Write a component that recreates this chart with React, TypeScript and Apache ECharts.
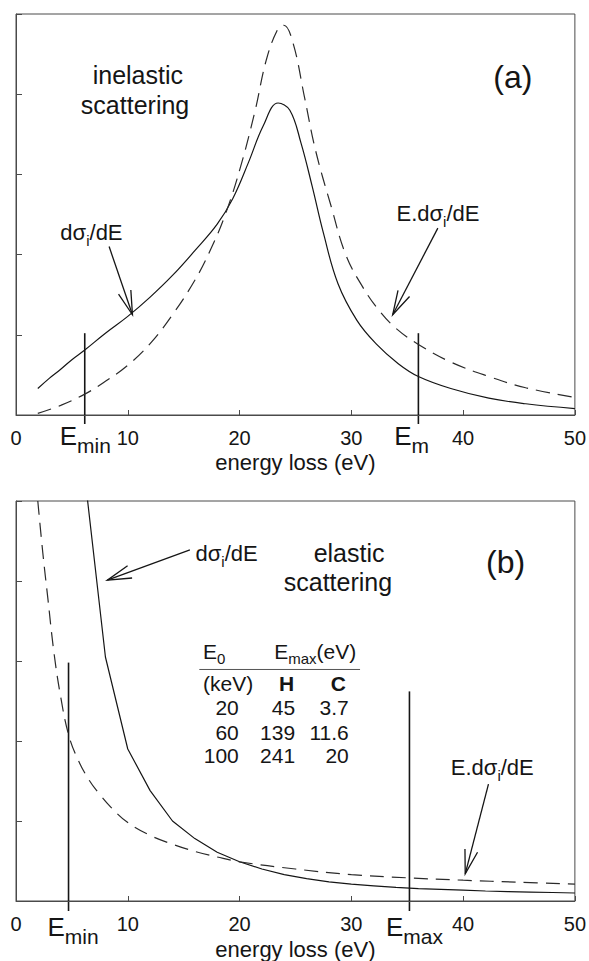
import { useEffect, useRef } from "react";
import * as echarts from "echarts";

// ---------------- data ----------------
const xTickValues = [0, 10, 20, 30, 40, 50];

// (a) inelastic scattering: dσi/dE (solid) and E·dσi/dE (dashed)
const inelasticSolidE = [1.95, 3, 4, 5, 6.15, 8, 10, 12, 14, 16, 18, 19.4, 20.8, 22.1, 23.45, 24.5, 25.5, 26.5, 27.5, 28.8, 30.5, 32.2, 34.2, 36, 38.9, 42.3, 45.6, 50];
const inelasticSolidY = [0.33, 0.46, 0.57, 0.69, 0.81, 1.02, 1.23, 1.47, 1.74, 2.05, 2.38, 2.7, 3.15, 3.6, 3.89, 3.8, 3.39, 2.85, 2.27, 1.64, 1.18, 0.89, 0.64, 0.48, 0.33, 0.21, 0.14, 0.08];
const inelasticDashE = [1.95, 4, 6.15, 8, 10, 12, 14, 16, 17.4, 18.75, 20.1, 21.4, 22.4, 23.45, 23.96, 24.8, 25.8, 26.8, 28.2, 29.5, 31, 32.5, 34, 36, 38.9, 42.3, 45.6, 50];
const inelasticDashY = [0.02, 0.12, 0.26, 0.42, 0.62, 0.89, 1.25, 1.68, 2.06, 2.51, 3.1, 3.8, 4.43, 4.82, 4.86, 4.63, 3.97, 3.3, 2.6, 2.0, 1.6, 1.3, 1.08, 0.88, 0.66, 0.48, 0.34, 0.22];
const inelasticMarkerE = [6.15, 36.0];
const inelasticMarkerTop = [1.02, 1.02];
const inelasticMarkerNames = ["min", "m"];

// (b) elastic scattering
const elasticSolidE = [6, 8, 10, 12, 14, 16, 18, 20, 22, 24, 26, 28, 30, 32, 34, 36, 38, 40, 42, 44, 46, 48, 50];
const elasticSolidY = [5.5, 3.05, 1.9, 1.38, 1.0, 0.78, 0.61, 0.49, 0.4, 0.33, 0.28, 0.24, 0.21, 0.19, 0.17, 0.155, 0.145, 0.135, 0.125, 0.118, 0.112, 0.106, 0.1];
const elasticDashE = [1.95, 2.4, 2.86, 3.4, 4, 4.7, 5.5, 6.5, 7.5, 8.5, 10, 12, 14, 16, 18, 20, 25, 30, 35, 40, 45, 50];
const elasticDashY = [5.0, 4.35, 3.77, 3.1, 2.55, 2.08, 1.78, 1.52, 1.33, 1.17, 0.98, 0.82, 0.71, 0.62, 0.55, 0.49, 0.4, 0.33, 0.29, 0.26, 0.235, 0.21];
const elasticMarkerE = [4.7, 35.2];
const elasticMarkerTop = [2.98, 2.62];
const elasticMarkerNames = ["min", "max"];

// table of E_max values
const tableBeamEnergy = ["20", "60", "100"];
const tableHydrogen = ["45", "139", "241"];
const tableCarbon = ["3.7", "11.6", "20"];

// ---------------- styling / layout ----------------
const FONT = "'Liberation Sans', Arial, Helvetica, sans-serif";
const INK = "#151515";
const FRAME = "#4a4a4a";

const zip = (xs: number[], ys: number[]) => xs.map((x, i) => [x, ys[i]]);

let measureCtx: CanvasRenderingContext2D | null = null;
function measure(text: string, size: number, bold?: boolean) {
  if (!measureCtx) measureCtx = document.createElement("canvas").getContext("2d");
  if (!measureCtx) return text.length * size * 0.55;
  measureCtx.font = `${bold ? "bold " : ""}${size}px 'Liberation Sans', Arial, sans-serif`;
  return measureCtx.measureText(text).width;
}

type Part = { t: string; sub?: boolean; bold?: boolean };

function textEl(t: string, x: number, y: number, size: number, align: string, bold?: boolean) {
  return {
    type: "text",
    x,
    y,
    silent: true,
    style: {
      text: t,
      fontSize: size,
      fontFamily: FONT,
      fontWeight: bold ? "bold" : "normal",
      fill: INK,
      align,
      verticalAlign: "middle",
      textAlign: align,
      textVerticalAlign: "middle",
    },
  };
}

function composite(parts: Part[], px: number, py: number, size: number, subSize: number, subDy: number, align: "left" | "center" | "right") {
  const widths = parts.map((p) => measure(p.t, p.sub ? subSize : size, p.bold));
  const total = widths.reduce((a, b) => a + b, 0);
  let x = align === "left" ? px : align === "center" ? px - total / 2 : px - total;
  return parts.map((p, i) => {
    const el = textEl(p.t, x, py + (p.sub ? subDy : 0), p.sub ? subSize : size, "left", p.bold);
    x += widths[i];
    return el;
  });
}

export default function App() {
  const ref = useRef<HTMLDivElement>(null);

  useEffect(() => {
    document.body.style.margin = "0";
    if (!ref.current) return;
    const chart = echarts.init(ref.current, null, { renderer: "svg" });

    const xAxis = (gridIndex: number, nameGap: number) => ({
      type: "value",
      gridIndex,
      min: xTickValues[0],
      max: xTickValues[xTickValues.length - 1],
      interval: 10,
      axisLine: { show: true, lineStyle: { color: FRAME, width: 1 } },
      axisTick: { show: true, inside: true, length: 5, lineStyle: { color: FRAME, width: 1 } },
      axisLabel: { fontSize: 20, fontFamily: FONT, color: INK, margin: 13 },
      splitLine: { show: false },
      name: "energy loss (eV)",
      nameLocation: "middle",
      nameGap,
      nameTextStyle: { fontSize: 22, fontFamily: FONT, color: INK },
    });
    const yAxis = (gridIndex: number) => ({
      type: "value",
      gridIndex,
      min: 0,
      max: 5,
      interval: 1,
      axisLine: { show: true, lineStyle: { color: FRAME, width: 1 } },
      axisTick: { show: true, inside: true, length: 6, lineStyle: { color: FRAME, width: 1 } },
      axisLabel: { show: false },
      splitLine: { show: false },
    });
    const solid = { color: INK, width: 1.2 };
    const dashed = { color: "#2a2a2a", width: 1.2, type: [14, 8] };

    chart.setOption({
      animation: false,
      backgroundColor: "#ffffff",
      grid: [
        { left: 16, top: 14, width: 559, height: 401, show: true, borderColor: FRAME, borderWidth: 1, backgroundColor: "transparent" },
        { left: 16, top: 501, width: 559, height: 402, show: true, borderColor: FRAME, borderWidth: 1, backgroundColor: "transparent" },
      ],
      xAxis: [xAxis(0, 36), xAxis(1, 37)],
      yAxis: [yAxis(0), yAxis(1)],
      series: [
        { name: "dσi/dE (inelastic)", type: "line", xAxisIndex: 0, yAxisIndex: 0, data: zip(inelasticSolidE, inelasticSolidY), smooth: 0.4, symbol: "none", lineStyle: solid, clip: true },
        { name: "E·dσi/dE (inelastic)", type: "line", xAxisIndex: 0, yAxisIndex: 0, data: zip(inelasticDashE, inelasticDashY), smooth: 0.4, symbol: "none", lineStyle: dashed, clip: true },
        { name: "dσi/dE (elastic)", type: "line", xAxisIndex: 1, yAxisIndex: 1, data: zip(elasticSolidE, elasticSolidY), smooth: false, symbol: "none", lineStyle: solid, clip: true },
        { name: "E·dσi/dE (elastic)", type: "line", xAxisIndex: 1, yAxisIndex: 1, data: zip(elasticDashE, elasticDashY), smooth: 0.4, symbol: "none", lineStyle: dashed, clip: true },
      ],
    });

    const px = (g: number, x: number, y: number) => chart.convertToPixel({ gridIndex: g } as any, [x, y]) as unknown as number[];

    const arrow = (g: number, from: number[], to: number[]) => {
      const a = px(g, from[0], from[1]);
      const b = px(g, to[0], to[1]);
      const dx = b[0] - a[0];
      const dy = b[1] - a[1];
      const L = Math.hypot(dx, dy) || 1;
      const ux = dx / L, uy = dy / L;
      const nx = -uy, ny = ux;
      const head = 24, half = 6.5;
      const p1 = [b[0] - ux * head + nx * half, b[1] - uy * head + ny * half];
      const p2 = [b[0] - ux * head - nx * half, b[1] - uy * head - ny * half];
      return [
        { type: "line", silent: true, shape: { x1: a[0], y1: a[1], x2: b[0], y2: b[1] }, style: { stroke: INK, lineWidth: 1.3 } },
        { type: "polyline", silent: true, shape: { points: [p1, b, p2] }, style: { stroke: INK, lineWidth: 1.3, fill: "none" } },
      ];
    };

    const markers = (g: number, es: number[], tops: number[], names: string[], labelCenters: number[], ext: number, eDy: number, subDy: number) => {
      const out: any[] = [];
      es.forEach((e, i) => {
        const t = px(g, e, tops[i]);
        const b = px(g, e, 0);
        out.push({ type: "line", silent: true, shape: { x1: t[0], y1: t[1], x2: t[0], y2: b[1] + ext }, style: { stroke: INK, lineWidth: 1.6 } });
        const c = px(g, labelCenters[i], 0);
        out.push(...composite([{ t: "E" }, { t: names[i], sub: true }], c[0], c[1] + eDy, 26, 21, subDy, "center"));
      });
      return out;
    };

    const at = (g: number, x: number, y: number) => px(g, x, y);
    const dLabel: Part[] = [{ t: "dσ" }, { t: "i", sub: true }, { t: "/dE" }];
    const edLabel: Part[] = [{ t: "E.dσ" }, { t: "i", sub: true }, { t: "/dE" }];

    const g: any[] = [];
    // ---- panel (a)
    {
      let p = at(0, 10.9, 4.24);
      g.push(textEl("inelastic", p[0], p[1], 25, "center"));
      p = at(0, 10.65, 3.87);
      g.push(textEl("scattering", p[0], p[1], 25, "center"));
      p = at(0, 44.45, 4.22);
      g.push(textEl("(a)", p[0], p[1], 32, "center"));
      p = at(0, 3.97, 2.27);
      g.push(...composite(dLabel, p[0], p[1], 22, 15, 8, "left"));
      p = at(0, 34.04, 2.515);
      g.push(...composite(edLabel, p[0], p[1], 22, 15, 8, "left"));
      g.push(...arrow(0, [8.33, 2.1], [10.42, 1.25]));
      g.push(...arrow(0, [37.74, 2.33], [33.7, 1.25]));
      g.push(...markers(0, inelasticMarkerE, inelasticMarkerTop, inelasticMarkerNames, [6.2, 35.4], 9, 21, 9));
    }
    // ---- panel (b)
    {
      let p = at(1, 29.8, 4.35);
      g.push(textEl("elastic", p[0], p[1], 25, "center"));
      p = at(1, 28.8, 3.99);
      g.push(textEl("scattering", p[0], p[1], 25, "center"));
      p = at(1, 43.8, 4.24);
      g.push(textEl("(b)", p[0], p[1], 32, "center"));
      p = at(1, 16.06, 4.35);
      g.push(...composite(dLabel, p[0], p[1], 22, 15, 8, "left"));
      p = at(1, 38.9, 1.67);
      g.push(...composite(edLabel, p[0], p[1], 22, 15, 8, "left"));
      g.push(...arrow(1, [15.56, 4.39], [8.17, 4.01]));
      g.push(...arrow(1, [42.27, 1.46], [40.19, 0.34]));
      g.push(...markers(1, elasticMarkerE, elasticMarkerTop, elasticMarkerNames, [5.1, 35.65], 10, 26, 9));

      // table
      const head = at(1, 16.73, 3.12);
      g.push(...composite([{ t: "E" }, { t: "0", sub: true }], head[0], head[1], 21, 15, 7, "left"));
      const head2 = at(1, 23.1, 3.12);
      g.push(...composite([{ t: "E" }, { t: "max", sub: true }, { t: "(eV)" }], head2[0], head2[1], 21, 15, 7, "left"));
      const l1 = at(1, 16.4, 2.894);
      const l2 = at(1, 30.78, 2.894);
      g.push({ type: "line", silent: true, shape: { x1: l1[0], y1: l1[1], x2: l2[0], y2: l2[1] }, style: { stroke: "#555", lineWidth: 1 } });
      p = at(1, 16.73, 2.72);
      g.push(textEl("(keV)", p[0], p[1], 21, "left"));
      p = at(1, 24.2, 2.72);
      g.push(textEl("H", p[0], p[1], 21, "center", true));
      p = at(1, 28.83, 2.72);
      g.push(textEl("C", p[0], p[1], 21, "center", true));
      const rowY = [2.417, 2.106, 1.816];
      const colRight = [19.93, 24.97, 29.77];
      const cols = [tableBeamEnergy, tableHydrogen, tableCarbon];
      rowY.forEach((ry, r) => {
        cols.forEach((col, c) => {
          const q = at(1, colRight[c], ry);
          g.push(textEl(col[r], q[0], q[1], 21, "right"));
        });
      });
    }

    chart.setOption({ graphic: g });

    return () => chart.dispose();
  }, []);

  return <div ref={ref} style={{ width: 589, height: 961 }} />;
}
